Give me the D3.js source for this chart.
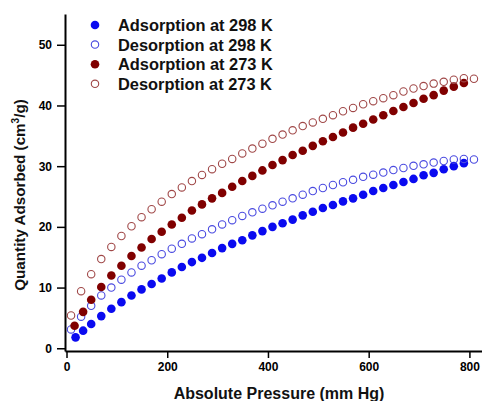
<!DOCTYPE html>
<html>
<head>
<meta charset="utf-8">
<script src="https://cdn.jsdelivr.net/npm/d3@7"></script>
<style>
  body { margin: 0; background: #fff; }
  text { font-family: "Liberation Sans", Arial, sans-serif; font-weight: bold; }
</style>
</head>
<body>
<div id="chart-container"></div>
<script>
// pressures (mm Hg) for adsorption and desorption branches
const adsP = [18, 33, 49, 69, 89, 109, 129, 149, 169, 189, 209, 229, 249, 269, 289, 309, 329, 349, 369, 389,
  409, 429, 449, 469, 489, 509, 529, 549, 569, 589, 609, 629, 649, 669, 689, 709, 729, 749, 769, 789];
const adsP273 = [16, 33, 49, 69, 89, 109, 129, 149, 169, 189, 209, 229, 249, 269, 289, 309, 329, 349, 369, 389,
  409, 429, 449, 469, 489, 509, 529, 549, 569, 589, 609, 629, 649, 669, 689, 709, 729, 749, 769, 789];
const desP = [9, 29, 49, 69, 89, 109, 129, 149, 169, 189, 209, 229, 249, 269, 289, 309, 329, 349, 369, 389,
  409, 429, 449, 469, 489, 509, 529, 549, 569, 589, 609, 629, 649, 669, 689, 709, 729, 749, 769, 789, 809];

// quantity adsorbed (cm3/g)
const ads298 = [1.8, 2.9, 4.0, 5.3, 6.5, 7.6, 8.7, 9.7, 10.6, 11.5, 12.5, 13.4, 14.2, 14.9, 15.7, 16.5, 17.2, 17.8, 18.6, 19.3,
  20.0, 20.6, 21.2, 21.9, 22.5, 23.1, 23.6, 24.2, 24.7, 25.3, 25.9, 26.4, 26.9, 27.4, 27.9, 28.5, 28.9, 29.5, 30.0, 30.5];
const des298 = [3.1, 5.2, 7.0, 8.7, 10.0, 11.3, 12.5, 13.6, 14.5, 15.5, 16.4, 17.2, 18.1, 18.8, 19.6, 20.4, 21.1, 21.8, 22.4, 23.0,
  23.55, 24.15, 24.7, 25.3, 25.9, 26.4, 26.9, 27.35, 27.75, 28.25, 28.6, 28.95, 29.35, 29.7, 30.05, 30.3, 30.6, 30.85, 31.1, 31.2, 31.1];
const ads273 = [3.7, 6.0, 8.0, 10.1, 12.0, 13.6, 15.2, 16.6, 18.0, 19.2, 20.4, 21.5, 22.7, 23.7, 24.7, 25.6, 26.6, 27.55, 28.4, 29.3,
  30.2, 31.0, 31.85, 32.55, 33.35, 34.1, 34.8, 35.55, 36.35, 37.0, 37.7, 38.4, 39.1, 39.75, 40.4, 41.1, 41.7, 42.45, 43.1, 43.7];
const des273 = [5.4, 9.4, 12.2, 14.7, 16.7, 18.5, 20.1, 21.6, 22.9, 24.15, 25.4, 26.5, 27.55, 28.55, 29.5, 30.4, 31.2, 32.1, 32.9, 33.7,
  34.5, 35.2, 35.9, 36.6, 37.2, 37.8, 38.4, 39.05, 39.6, 40.2, 40.7, 41.2, 41.7, 42.3, 42.8, 43.2, 43.6, 43.9, 44.25, 44.5, 44.4];

const xTicks = [0, 200, 400, 600, 800];
const yTicks = [0, 10, 20, 30, 40, 50];

const seriesNames = ["Adsorption at 298 K", "Desorption at 298 K", "Adsorption at 273 K", "Desorption at 273 K"];

const series = [
  { name: seriesNames[0], p: adsP, q: ads298, filled: true, color: "#0a0af0" },
  { name: seriesNames[1], p: desP, q: des298, filled: false, color: "#4a4ae0" },
  { name: seriesNames[2], p: adsP273, q: ads273, filled: true, color: "#800000" },
  { name: seriesNames[3], p: desP, q: des273, filled: false, color: "#a04848" }
];

const W = 482, H = 401;
const plotLeft = 65, plotRight = 482, plotTop = 14, plotBottom = 351;

const x = d3.scaleLinear().domain([-3, 825]).range([plotLeft, plotRight]);
const y = d3.scaleLinear().domain([-0.45, 55.07]).range([plotBottom, plotTop]);

const svg = d3.select("#chart-container")
  .append("svg")
    .attr("width", W)
    .attr("height", H);

// axes
const xAxis = svg.append("g")
  .attr("transform", `translate(0,${plotBottom})`)
  .call(d3.axisBottom(x).tickValues(xTicks).tickSize(7).tickSizeOuter(0).tickPadding(4));

const yAxis = svg.append("g")
  .attr("transform", `translate(${plotLeft},0)`)
  .call(d3.axisLeft(y).tickValues(yTicks).tickSize(8).tickSizeOuter(0).tickPadding(5));

[xAxis, yAxis].forEach(g => {
  g.select(".domain").attr("stroke", "#000").attr("stroke-width", 2);
  g.selectAll(".tick line").attr("stroke", "#000").attr("stroke-width", 1.5);
  g.selectAll(".tick text")
    .attr("fill", "#000")
    .style("font-size", "12px")
    .style("font-family", "'Liberation Sans', Arial, sans-serif")
    .style("font-weight", "bold");
});

// points
series.forEach(s => {
  svg.append("g")
    .selectAll("circle")
    .data(s.p.map((p, i) => ({ p: p, q: s.q[i] })))
    .join("circle")
      .attr("cx", d => x(d.p))
      .attr("cy", d => y(d.q))
      .attr("r", s.filled ? 4.3 : 3.7)
      .attr("fill", s.filled ? s.color : "none")
      .attr("stroke", s.filled ? "none" : s.color)
      .attr("stroke-width", 1.1);
});

// legend
const legend = svg.append("g");
series.forEach((s, i) => {
  const ly = 25 + i * 19.6;
  legend.append("circle")
    .attr("cx", 95)
    .attr("cy", ly)
    .attr("r", s.filled ? 4.3 : 3.7)
    .attr("fill", s.filled ? s.color : "none")
    .attr("stroke", s.filled ? "none" : s.color)
    .attr("stroke-width", 1.1);
  legend.append("text")
    .attr("x", 118)
    .attr("y", ly + 6)
    .style("font-size", "16.4px")
    .attr("fill", "#111")
    .text(s.name);
});

// axis titles
svg.append("text")
  .attr("x", 279)
  .attr("y", 399)
  .attr("text-anchor", "middle")
  .style("font-size", "16px")
  .attr("fill", "#111")
  .text("Absolute Pressure (mm Hg)");

const yTitle = svg.append("text")
  .attr("transform", "translate(25,195) rotate(-90)")
  .attr("text-anchor", "middle")
  .style("font-size", "15.2px")
  .attr("fill", "#111");
yTitle.append("tspan").text("Quantity Adsorbed (cm");
yTitle.append("tspan").attr("dy", -6).style("font-size", "10px").text("3");
yTitle.append("tspan").attr("dy", 6).text("/g)");
</script>
</body>
</html>
